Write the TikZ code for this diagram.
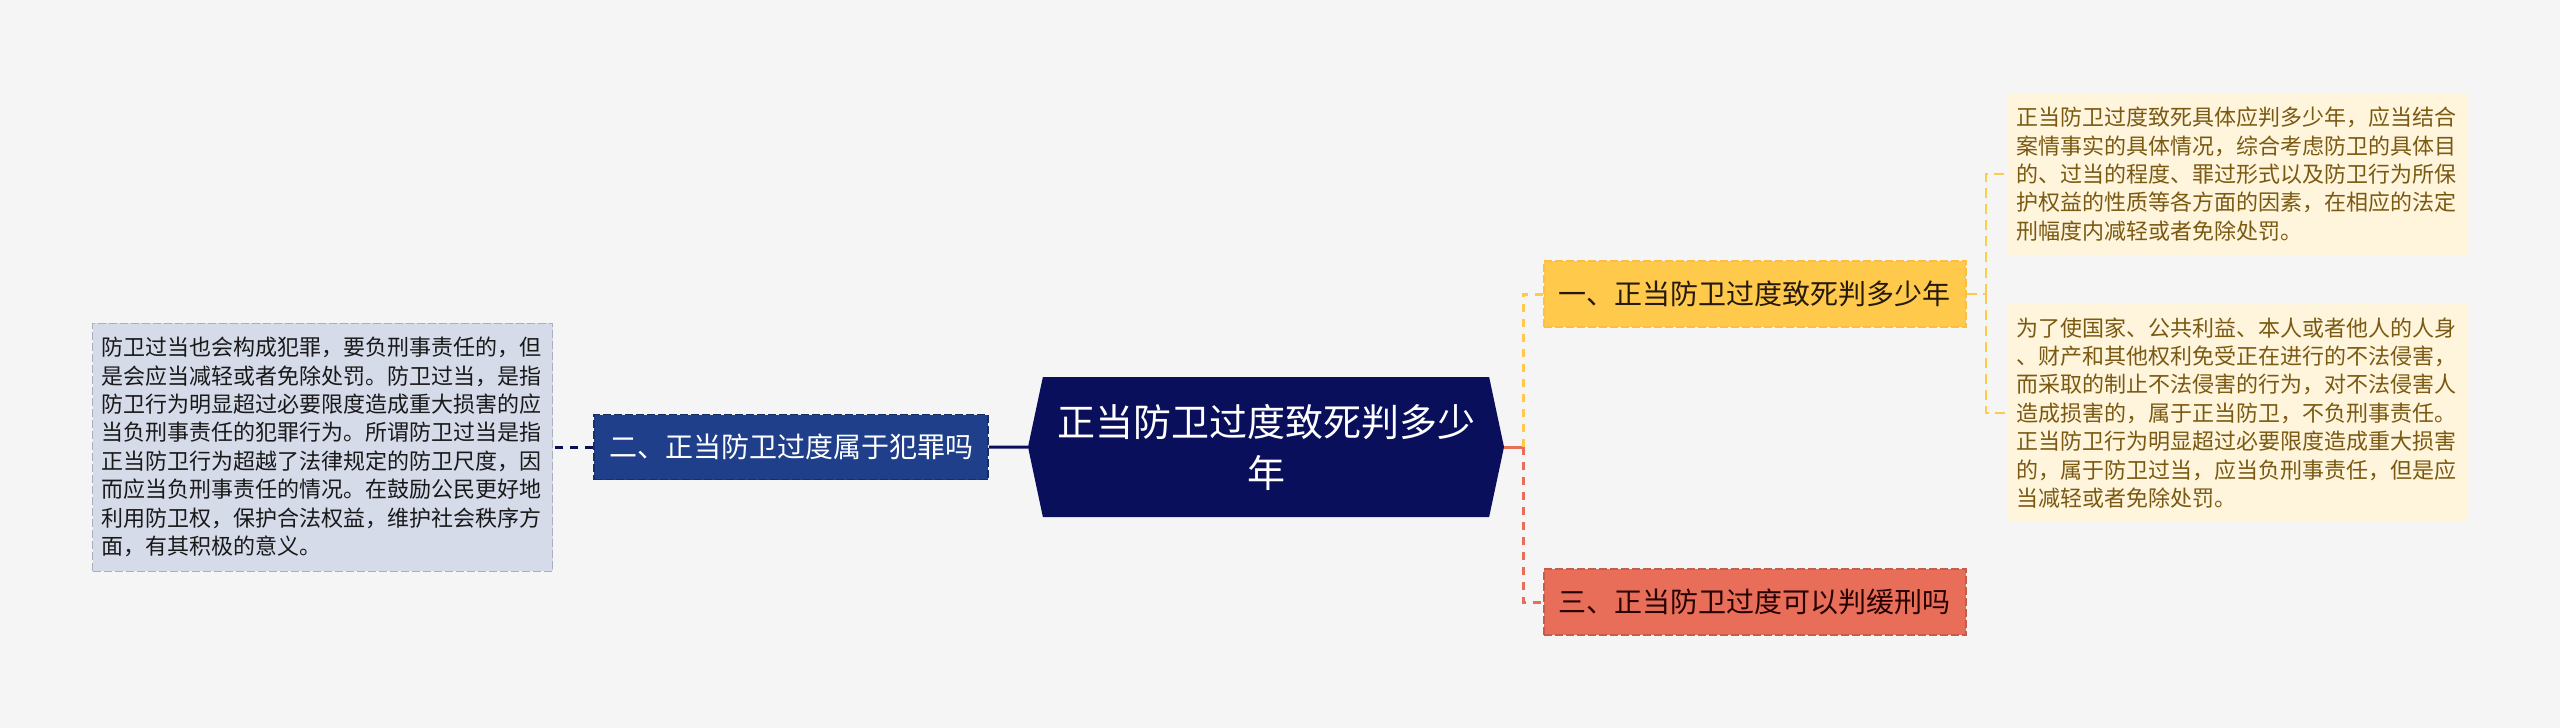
\documentclass[tikz,border=0pt]{standalone}
\usepackage{fontspec}
\setmainfont{Noto Sans CJK SC}
\usepackage{xcolor}
\usetikzlibrary{positioning,shapes.symbols}
\definecolor{bgcol}{HTML}{F5F5F5}
\definecolor{rootcol}{HTML}{0A0F5C}
\definecolor{bluecol}{HTML}{1F3F8B}
\definecolor{paleblue}{HTML}{D6DBEA}
\definecolor{yellowcol}{HTML}{FFC94B}
\definecolor{redcol}{HTML}{E86E59}
\definecolor{creamcol}{HTML}{FFF4DC}
\definecolor{browntext}{HTML}{7A5A12}

\begin{document}
\begin{tikzpicture}[
  x=1pt, y=-1pt,
  every node/.style={inner sep=0pt},
  root/.style={signal, signal to=west and east, signal pointer angle=156,
               fill=rootcol, text=white, minimum width=476pt, minimum height=140pt,
               align=center, font=\fontsize{38}{51}\selectfont},
  branch/.style={minimum height=66pt, inner xsep=15pt, line width=1.5pt,
                 dash pattern=on 8pt off 3pt, font=\fontsize{28}{34}\selectfont},
  blubox/.style={branch, fill=bluecol, draw=bluecol!75!black, text=white,
                 minimum height=65pt},
  yelbox/.style={branch, fill=yellowcol, draw=yellowcol!85!orange, text=black!80!brown},
  redbox/.style={branch, fill=redcol, draw=redcol!85!black, text=black!85!red},
  leaf/.style={text width=442pt, inner xsep=9pt, align=left,
               font=\fontsize{22}{28.4}\selectfont},
  bluleaf/.style={leaf, fill=paleblue, draw=paleblue!80!black, line width=1pt,
                  dash pattern=on 8pt off 3pt, text=black!90, minimum height=248pt},
  creamleaf/.style={leaf, fill=creamcol, text=browntext},
  link/.style={line width=3pt},
  dashlink/.style={line width=3pt, dash pattern=on 8pt off 7pt},
  thinlink/.style={line width=2pt, dash pattern=on 10pt off 6pt, draw=yellowcol},
]
\fill[bgcol] (0,0) rectangle (2560,728);
\useasboundingbox (0,0) rectangle (2560,728);

% ===== centre =====
\node[root] (root) at (1266,447) {正当防卫过度致死判多少\\年};

% ===== left =====
\node[blubox, left=39pt of root] (b2) {二、正当防卫过度属于犯罪吗};
\node[bluleaf, left=40pt of b2] (l2) {防卫过当也会构成犯罪，要负刑事责任的，但\\是会应当减轻或者免除处罚。防卫过当，是指\\防卫行为明显超过必要限度造成重大损害的应\\当负刑事责任的犯罪行为。所谓防卫过当是指\\正当防卫行为超越了法律规定的防卫尺度，因\\而应当负刑事责任的情况。在鼓励公民更好地\\利用防卫权，保护合法权益，维护社会秩序方\\面，有其积极的意义。};

\draw[link, rootcol] (b2) -- (root);
\draw[dashlink, rootcol] (b2) -- (l2);

% ===== right =====
\node[yelbox, anchor=west] (b1) at (1543,294) {一、正当防卫过度致死判多少年};
\node[redbox, anchor=west] (b3) at (1543,602) {三、正当防卫过度可以判缓刑吗};

\node[creamleaf, minimum height=162pt, anchor=west] (r1) at (2007,174)
  {正当防卫过度致死具体应判多少年，应当结合\\案情事实的具体情况，综合考虑防卫的具体目\\的、过当的程度、罪过形式以及防卫行为所保\\护权益的性质等各方面的因素，在相应的法定\\刑幅度内减轻或者免除处罚。};
\node[creamleaf, minimum height=219pt, below=48pt of r1] (r2)
  {为了使国家、公共利益、本人或者他人的人身\\、财产和其他权利免受正在进行的不法侵害，\\而采取的制止不法侵害的行为，对不法侵害人\\造成损害的，属于正当防卫，不负刑事责任。\\正当防卫行为明显超过必要限度造成重大损害\\的，属于防卫过当，应当负刑事责任，但是应\\当减轻或者免除处罚。};

\draw[link, redcol] (root.east) -- ++(19,0) coordinate (rj);
\draw[dashlink, yellowcol] (rj) |- (b1.west);
\draw[dashlink, redcol] (rj) |- (b3.west);

\draw[thinlink] (b1.east) -- ++(19,0) coordinate (yj);
\draw[thinlink] (yj) |- (r1.west);
\draw[thinlink] (yj) |- (r2.west);
\end{tikzpicture}
\end{document}
